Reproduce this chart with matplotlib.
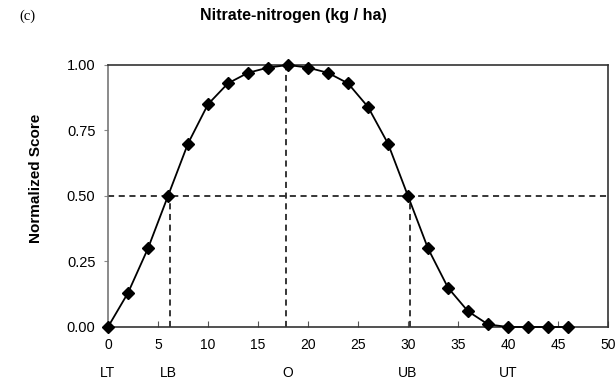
import matplotlib
matplotlib.use("Agg")
import matplotlib.pyplot as plt

x_vals = [0, 2, 4, 6, 8, 10, 12, 14, 16, 18, 20, 22, 24, 26, 28, 30, 32, 34, 36, 38, 40, 42, 44, 46]
scores = [0.0, 0.13, 0.30, 0.50, 0.70, 0.85, 0.93, 0.97, 0.99, 1.00, 0.99, 0.97, 0.93, 0.84, 0.70, 0.50,
          0.30, 0.15, 0.06, 0.01, 0.0, 0.0, 0.0, 0.0]
thresh_names = ["LT", "LB", "O", "UB", "UT"]
thresh_pos = [0, 6, 18, 30, 40]
lb_x = 6.2
o_x = 17.8
ub_x = 30.2
xticks = [0, 5, 10, 15, 20, 25, 30, 35, 40, 45, 50]
yticks = [0.0, 0.25, 0.5, 0.75, 1.0]

plt.rcParams['font.family'] = ['Liberation Sans', 'DejaVu Sans']

fig = plt.figure(figsize=(6.16, 3.80), dpi=100)
ax = fig.add_axes([0.1753, 0.1395, 0.8117, 0.6895])

ax.plot(x_vals, scores, color='black', lw=1.3, marker='D', markersize=6, zorder=3, clip_on=False)

ax.axhline(0.5, color='black', lw=1.1, ls=(0, (4, 3)), zorder=2)
ax.plot([lb_x, lb_x], [0, 0.5], color='black', lw=1.1, ls=(0, (4, 3)))
ax.plot([ub_x, ub_x], [0, 0.5], color='black', lw=1.1, ls=(0, (4, 3)))
ax.plot([o_x, o_x], [0, 1.0], color='black', lw=1.1, ls=(0, (4, 3)))

ax.set_xlim(0, 50)
ax.set_ylim(0, 1.0)
ax.set_xticks(xticks)
ax.set_xticklabels([str(t) for t in xticks], fontsize=10)
ax.set_yticks(yticks)
ax.set_yticklabels([f"{t:.2f}" for t in yticks], fontsize=10.5)
ax.tick_params(axis='x', direction='in', length=4, pad=8, color='#555555')
ax.tick_params(axis='y', direction='out', length=3, pad=6, color='#888888')

for s in ax.spines.values():
    s.set_color('#333333')
    s.set_linewidth(1.2)
ax.spines['left'].set_color('#777777')

for name, pos in zip(thresh_names, thresh_pos):
    ax.text(pos, -0.175, name, ha='center', va='center', fontsize=10,
            transform=ax.get_xaxis_transform())

ax.set_ylabel("Normalized Score", fontsize=11, fontweight='bold')
ax.yaxis.set_label_coords(-0.13, 0.569)

fig.text(0.477, 0.958, "Nitrate-nitrogen (kg / ha)", ha='center', va='center',
         fontsize=11.5, fontweight='bold')
fig.text(0.044, 0.958, "(c)", ha='center', va='center', fontsize=10.5,
         family=['Liberation Serif', 'DejaVu Serif'])

fig.savefig("out.png", dpi=100)
